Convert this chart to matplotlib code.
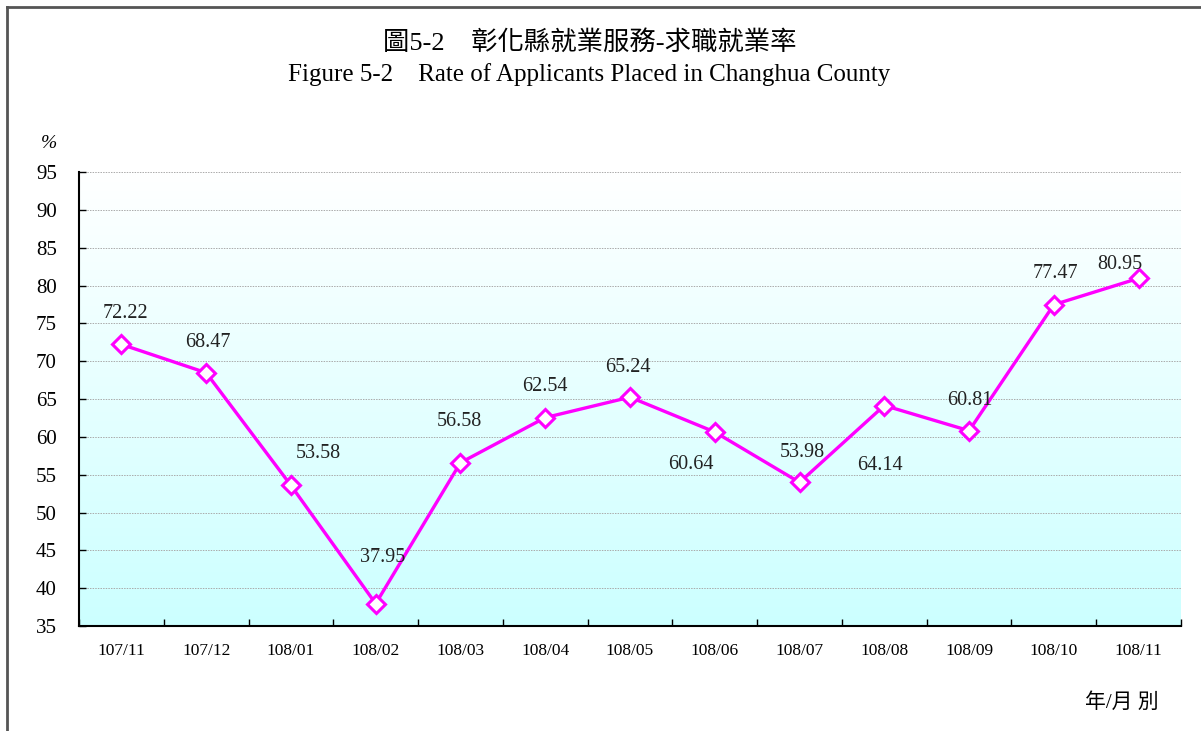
import numpy as np
import matplotlib.pyplot as plt
from matplotlib.lines import Line2D

plt.rcParams['font.family'] = ['Liberation Serif', 'Noto Sans CJK TC']

months = ["107/11", "107/12", "108/01", "108/02", "108/03", "108/04", "108/05",
          "108/06", "108/07", "108/08", "108/09", "108/10", "108/11"]
rates = [72.22, 68.47, 53.58, 37.95, 56.58, 62.54, 65.24,
         60.64, 53.98, 64.14, 60.81, 77.47, 80.95]
# label offsets in pixels (dx right, dy up)
label_off = [(4, 31), (2, 30), (27, 32), (7, 46), (-1, 41), (0, 31), (-2, 30),
             (-24, -33), (3, 30), (-4, -60), (1, 30), (2, 31), (-19, 14)]
yticks = list(range(35, 100, 5))

W, H = 1201, 731
fig = plt.figure(figsize=(W / 100, H / 100), dpi=100)
ax = fig.add_axes([79 / W, 1 - 626 / H, 1102 / W, 454 / H])

x = np.arange(len(months))
ax.set_xlim(-0.5, len(months) - 0.5)
ax.set_ylim(35, 95)

# gradient background white (top) -> light cyan (bottom)
grad = np.linspace(0, 1, 256).reshape(-1, 1)
top = np.array([1.0, 1.0, 1.0])
bot = np.array([0.80, 1.0, 1.0])
img = top + (bot - top) * grad[:, :, None] * np.ones((1, 1, 3))
ax.imshow(img, extent=[-0.5, len(months) - 0.5, 35, 95], origin='upper',
          aspect='auto', zorder=0)

for yv in yticks[1:]:
    ax.axhline(yv, color='#aaaaaa', lw=0.7, ls=(0, (1.5, 1.2)), zorder=1)

ax.plot(x, rates, color='#FF00FF', lw=2.4, marker='D', ms=9, mfc='white',
        mec='#FF00FF', mew=2.2, zorder=3)

for xi, v, (dx, dy) in zip(x, rates, label_off):
    ax.annotate(f"{v:.2f}", (xi, v), xytext=(dx * 0.72, dy * 0.72),
                textcoords='offset points', ha='center', va='center',
                fontsize=14.5, color='#222222', zorder=4)

ax.set_yticks(yticks)
ax.set_yticklabels([str(t) for t in yticks], fontsize=15)
ax.set_xticks(np.arange(-0.5, len(months), 1.0))
ax.set_xticklabels([])
ax.set_xticks(x, minor=True)
ax.set_xticklabels(months, minor=True, fontsize=12.5)
ax.tick_params(axis='x', which='major', direction='in', length=5, width=1)
ax.tick_params(axis='x', which='minor', length=0, pad=12)
ax.tick_params(axis='y', direction='in', length=5, width=1, pad=16)

ax.spines['top'].set_visible(False)
ax.spines['right'].set_visible(False)
ax.spines['left'].set_linewidth(1.5)
ax.spines['bottom'].set_linewidth(1.5)

fig.text(590 / W, 1 - 42 / H, "圖5-2    彰化縣就業服務-求職就業率", ha='center', va='center', fontsize=19)
fig.text(589 / W, 1 - 75 / H, "Figure 5-2    Rate of Applicants Placed in Changhua County",
         ha='center', va='center', fontsize=18)
fig.text(49 / W, 1 - 143 / H, "%", ha='center', va='center', fontsize=14, style='italic')
fig.text(1122 / W, 1 - 703 / H, "年/月 別", ha='center', va='center', fontsize=15)

# figure border (left and top edges)
fig.add_artist(Line2D([7 / W, 7 / W], [0, 1 - 7 / H], transform=fig.transFigure, color='#555555', lw=2))
fig.add_artist(Line2D([7 / W, 1], [1 - 7 / H, 1 - 7 / H], transform=fig.transFigure, color='#555555', lw=2))

fig.savefig("out.png", dpi=100)
